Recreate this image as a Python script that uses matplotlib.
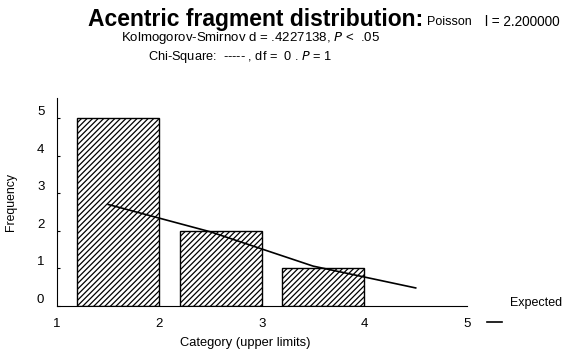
import matplotlib.pyplot as plt

plt.rcParams['font.family'] = ['Liberation Sans', 'DejaVu Sans']
plt.rcParams['hatch.linewidth'] = 0.9

# observed counts per category (upper limits 2, 3, 4)
upper_limits = [2, 3, 4]
observed = [5, 2, 1]

# expected Poisson frequencies, drawn at category midpoints
exp_x = [1.5, 2.5, 3.5, 4.5]
expected = [2.7, 1.97, 1.06, 0.48]

x_ticks = [1, 2, 3, 4, 5]
y_ticks = [0, 1, 2, 3, 4, 5]

fig = plt.figure(figsize=(5.63, 3.52), dpi=100)
ax = fig.add_axes([0.101, 0.1307, 0.7284, 0.5909])

ax.bar(upper_limits, observed, width=-0.8, align='edge', color='white',
       edgecolor='black', hatch='//////', linewidth=1.0)
ax.plot(exp_x, expected, color='black', linewidth=1.2)

ax.set_xlim(1, 5)
ax.set_ylim(0, 5.53)
ax.set_xticks(x_ticks)
ax.set_yticks(y_ticks)
ax.tick_params(axis='x', length=0, pad=9, labelsize=9.5)
ax.tick_params(axis='y', length=2, direction='in', pad=9, labelsize=9.5)
for lab in ax.get_yticklabels():
    lab.set_verticalalignment('bottom')
ax.spines['top'].set_visible(False)
ax.spines['right'].set_visible(False)

ax.set_xlabel('Category (upper limits)', fontsize=9.3)
ax.xaxis.set_label_coords(0.46, -0.15)
ax.set_ylabel('Frequency', fontsize=8.8, labelpad=14)

fig.text(0.156, 0.945, 'Acentric fragment distribution:', fontsize=16.5,
         fontweight='bold', va='center', ha='left')
fig.text(0.759, 0.938, 'Poisson', fontsize=9, va='center', ha='left')
fig.text(0.862, 0.938, 'l = 2.200000', fontsize=9.8, va='center', ha='left')
fig.text(0.215, 0.893, 'Kolmogorov-Smirnov d = .4227138, $P$ <  .05',
         fontsize=9.5, va='center', ha='left')
fig.text(0.263, 0.839, 'Chi-Square:  ----- , df =  0 . $P$ = 1',
         fontsize=9.2, va='center', ha='left')

# legend drawn as in the original: label above, line sample below
fig.text(0.905, 0.139, 'Expected', fontsize=9, va='center', ha='left')
fig.lines.append(plt.Line2D([0.865, 0.892], [0.085, 0.085], color='black',
                            linewidth=1.2, transform=fig.transFigure))

fig.savefig('out.png', dpi=100)
